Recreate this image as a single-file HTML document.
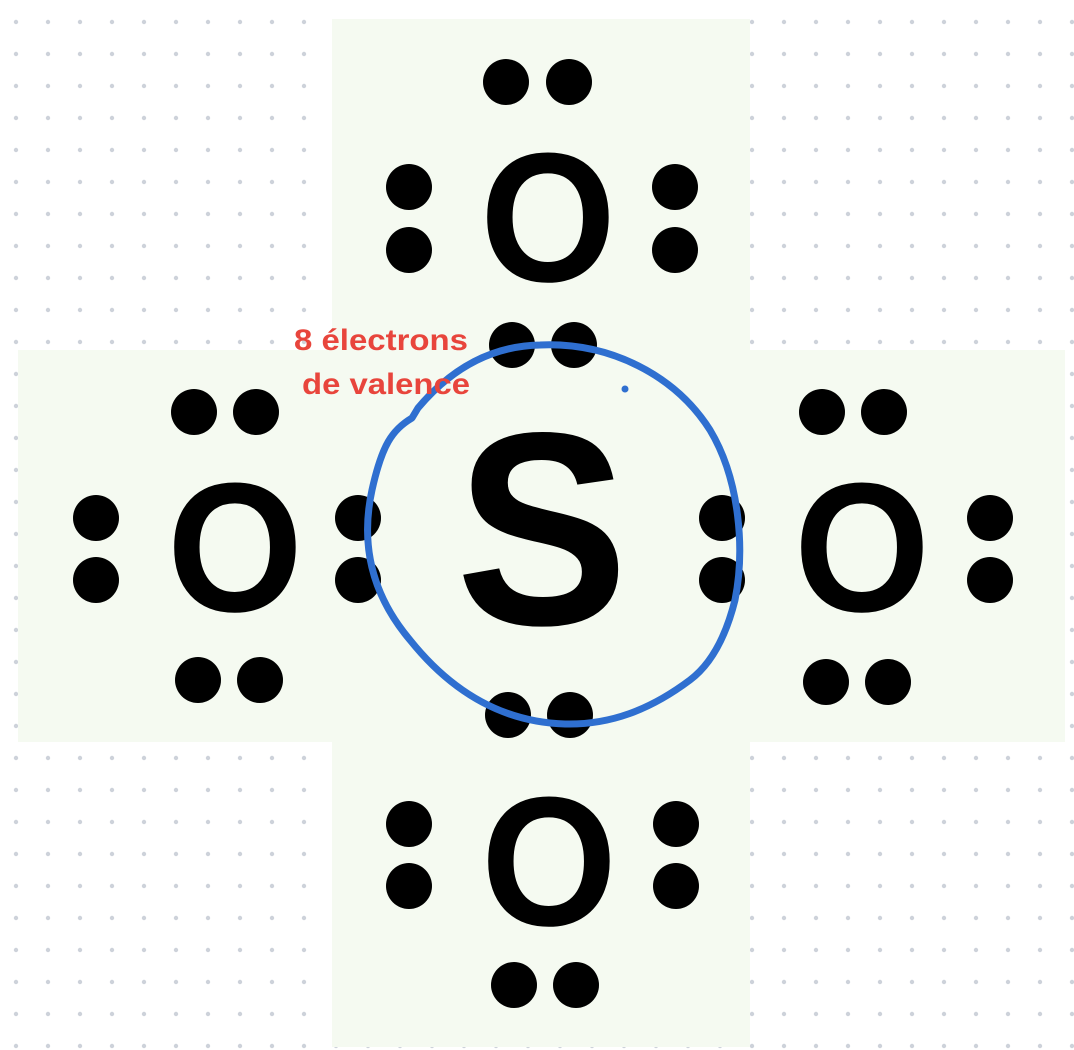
<!DOCTYPE html>
<html><head><meta charset="utf-8"><style>
html,body{margin:0;padding:0;background:#fff;}
svg{display:block}
</style></head><body>
<svg width="1074" height="1050" viewBox="0 0 1074 1050" xmlns="http://www.w3.org/2000/svg">
<defs>
<pattern id="g" x="0" y="6" width="32" height="32" patternUnits="userSpaceOnUse">
<circle cx="16" cy="16" r="2.2" fill="#cdd2da"/>
</pattern>
</defs>
<rect width="1074" height="1050" fill="#fff"/>
<rect width="1074" height="1050" fill="url(#g)"/>
<rect x="332" y="19" width="418" height="1028" fill="#f5faf1"/>
<rect x="18" y="350" width="1047" height="392" fill="#f5faf1"/>
<g fill="#000">
<circle cx="506" cy="82" r="23"/><circle cx="569" cy="82" r="23"/>
<circle cx="409" cy="187" r="23"/><circle cx="409" cy="250" r="23"/>
<circle cx="675" cy="187" r="23"/><circle cx="675" cy="250" r="23"/>
<circle cx="512" cy="345" r="23"/><circle cx="574" cy="345" r="23"/>
<circle cx="358" cy="518" r="23"/><circle cx="358" cy="580" r="23"/>
<circle cx="722" cy="518" r="23"/><circle cx="722" cy="580" r="23"/>
<circle cx="508" cy="715" r="23"/><circle cx="570" cy="715" r="23"/>
<circle cx="194" cy="412" r="23"/><circle cx="256" cy="412" r="23"/>
<circle cx="96" cy="518" r="23"/><circle cx="96" cy="580" r="23"/>
<circle cx="198" cy="680" r="23"/><circle cx="260" cy="680" r="23"/>
<circle cx="822" cy="412" r="23"/><circle cx="884" cy="412" r="23"/>
<circle cx="990" cy="518" r="23"/><circle cx="990" cy="580" r="23"/>
<circle cx="826" cy="682" r="23"/><circle cx="888" cy="682" r="23"/>
<circle cx="409" cy="824" r="23"/><circle cx="409" cy="886" r="23"/>
<circle cx="676" cy="824" r="23"/><circle cx="676" cy="886" r="23"/>
<circle cx="514" cy="985" r="23"/><circle cx="576" cy="985" r="23"/>
</g>
<g font-family="Liberation Sans, Arial, sans-serif" font-weight="bold" fill="#000" text-anchor="middle">
<text transform="translate(548,281) scale(0.95,1)" font-size="184">O</text>
<text transform="translate(235,611) scale(0.95,1)" font-size="184">O</text>
<text transform="translate(862,611) scale(0.95,1)" font-size="184">O</text>
<text transform="translate(549,925) scale(0.95,1)" font-size="184">O</text>
<text transform="translate(542,624) scale(0.94,1)" font-size="275">S</text>
</g>
<path d="M418,408 C450,370 490,346 540,345 C610,342 675,375 710,430 C740,480 745,550 735,600 C725,640 710,665 690,680 C650,710 610,725 565,724 C500,722 450,690 410,640 C372,595 360,545 372,490 C382,445 392,430 412,418 Z" fill="none" stroke="#2f6fd0" stroke-width="7" stroke-linecap="round" stroke-linejoin="round"/>
<circle cx="625" cy="389" r="3.5" fill="#2f6fd0"/>
<g font-family="Liberation Sans, Arial, sans-serif" font-weight="bold" fill="#e8453c" font-size="30">
<text x="294" y="350" textLength="174" lengthAdjust="spacingAndGlyphs">8 électrons</text>
<text x="302" y="394" textLength="168" lengthAdjust="spacingAndGlyphs">de valence</text>
</g>
</svg>
</body></html>
